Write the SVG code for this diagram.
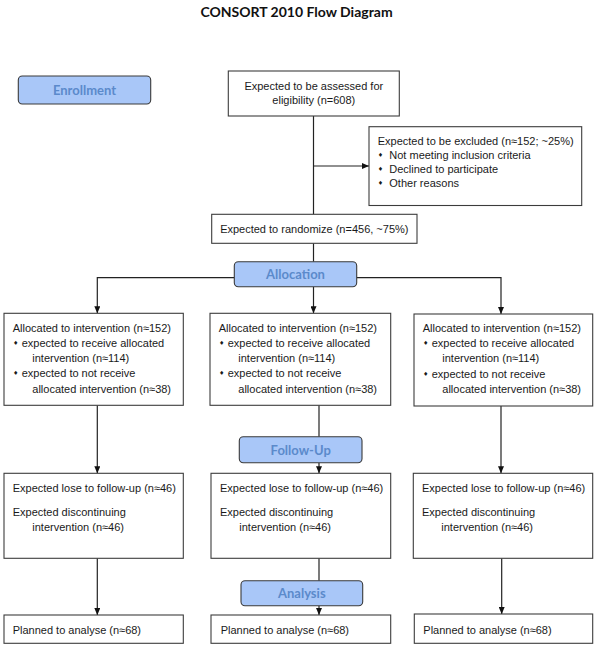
<svg xmlns="http://www.w3.org/2000/svg" width="600" height="648" viewBox="0 0 600 648">
<defs>
<marker id="arr" markerWidth="7" markerHeight="6" refX="7" refY="3" orient="auto" markerUnits="userSpaceOnUse">
<path d="M0,0 L7,3 L0,6 z" fill="#111"/>
</marker>
<style>
.box{fill:#fff;stroke:#3c3c3c;stroke-width:1.1}
.stage{fill:#a9c7f8;stroke:#3a3a3a;stroke-width:1.1}
.t{font-family:"Liberation Sans",Arial,sans-serif;font-size:11px;fill:#1a1a1a}
.tc{font-family:"Liberation Sans",Arial,sans-serif;font-size:11px;fill:#1a1a1a;text-anchor:middle}
.b{font-family:"DejaVu Sans",sans-serif;font-size:6px;fill:#1a1a1a;text-anchor:middle}
.st{font-family:Lato,"Open Sans",sans-serif;font-weight:bold;font-size:13px;fill:#5b8acb;text-anchor:middle}
.title{font-family:Lato,"Open Sans",sans-serif;font-weight:bold;font-size:14px;fill:#111;text-anchor:middle}
.c{fill:none;stroke:#222;stroke-width:1.2}
.ca{fill:none;stroke:#222;stroke-width:1.2;marker-end:url(#arr)}
</style>
</defs>
<rect width="600" height="648" fill="#fff"/>
<text class="title" x="296.5" y="17.3">CONSORT 2010 Flow Diagram</text>

<g id="connectors">
<line class="c" x1="313.5" y1="116" x2="313.5" y2="214.3"/>
<line class="ca" x1="313.5" y1="166" x2="369" y2="166"/>
<line class="c" x1="313.5" y1="243.3" x2="313.5" y2="261.7"/>
<line class="ca" x1="313.5" y1="286.7" x2="313.5" y2="313.3"/>
<polyline class="ca" points="234.3,277.7 97.3,277.7 97.3,313.3"/>
<polyline class="ca" points="356.7,277.7 501,277.7 501,314"/>
<line class="ca" x1="97.3" y1="405.3" x2="97.3" y2="473.3"/>
<line class="c" x1="319" y1="405.3" x2="319" y2="436.7"/>
<line class="ca" x1="319" y1="462.7" x2="319" y2="473.3"/>
<line class="ca" x1="501" y1="406" x2="501" y2="473.3"/>
<line class="ca" x1="97.3" y1="558.3" x2="97.3" y2="615"/>
<line class="c" x1="319" y1="558.3" x2="319" y2="580.7"/>
<line class="ca" x1="319" y1="605.7" x2="319" y2="615"/>
<line class="ca" x1="501.7" y1="558.3" x2="501.7" y2="614"/>
</g>

<g id="enrollment">
<rect class="stage" x="18.3" y="76" width="132.4" height="28" rx="4"/>
<text class="st" x="84.5" y="95">Enrollment</text>
</g>

<g id="assessed">
<rect class="box" x="228.3" y="71" width="171" height="45"/>
<text class="tc" x="313.8" y="89.5">Expected to be assessed for</text>
<text class="tc" x="313.8" y="104.3">eligibility (n=608)</text>
</g>

<g id="excluded">
<rect class="box" x="369" y="126.7" width="212.7" height="78.8"/>
<text class="t" x="377.7" y="145">Expected to be excluded (n≈152; ~25%)</text>
<text class="b" x="380.5" y="157.3">♦</text>
<text class="t" x="389.3" y="159.3">Not meeting inclusion criteria</text>
<text class="b" x="380.5" y="171.3">♦</text>
<text class="t" x="389.3" y="173.3">Declined to participate</text>
<text class="b" x="380.5" y="185.3">♦</text>
<text class="t" x="389.3" y="187.3">Other reasons</text>
</g>

<g id="randomize">
<rect class="box" x="211.7" y="214.3" width="205.3" height="29"/>
<text class="tc" x="314.3" y="232.7">Expected to randomize (n=456, ~75%)</text>
</g>

<g id="allocation">
<rect class="stage" x="234.3" y="261.7" width="122.4" height="25" rx="4"/>
<text class="st" x="295.5" y="279">Allocation</text>
</g>

<g id="alloc-left">
<rect class="box" x="4" y="313.3" width="179.3" height="92"/>
<text class="t" x="12.7" y="331.5">Allocated to intervention (n≈152)</text>
<text class="b" x="15.7" y="344.5">♦</text>
<text class="t" x="21.7" y="346.7">expected to receive allocated</text>
<text class="t" x="32.3" y="361.7">intervention (n≈114)</text>
<text class="b" x="15.7" y="375.3">♦</text>
<text class="t" x="21.7" y="377.3">expected to not receive</text>
<text class="t" x="32.3" y="392.7">allocated intervention (n≈38)</text>
</g>

<g id="alloc-mid">
<rect class="box" x="210" y="313.3" width="180.7" height="92"/>
<text class="t" x="218.7" y="331.5">Allocated to intervention (n≈152)</text>
<text class="b" x="221.7" y="344.5">♦</text>
<text class="t" x="227.7" y="346.7">expected to receive allocated</text>
<text class="t" x="238.3" y="361.7">intervention (n≈114)</text>
<text class="b" x="221.7" y="375.3">♦</text>
<text class="t" x="227.7" y="377.3">expected to not receive</text>
<text class="t" x="238.3" y="392.7">allocated intervention (n≈38)</text>
</g>

<g id="alloc-right">
<rect class="box" x="414" y="314" width="178.7" height="92"/>
<text class="t" x="422.7" y="332">Allocated to intervention (n≈152)</text>
<text class="b" x="425.7" y="345">♦</text>
<text class="t" x="431.7" y="347.2">expected to receive allocated</text>
<text class="t" x="442.3" y="362.2">intervention (n≈114)</text>
<text class="b" x="425.7" y="375.8">♦</text>
<text class="t" x="431.7" y="377.8">expected to not receive</text>
<text class="t" x="442.3" y="393.2">allocated intervention (n≈38)</text>
</g>

<g id="followup">
<rect class="stage" x="239.3" y="436.7" width="122.7" height="26" rx="4"/>
<text class="st" x="300.7" y="455">Follow-Up</text>
</g>

<g id="fu-left">
<rect class="box" x="4" y="473.3" width="179.3" height="85"/>
<text class="t" x="12.7" y="492.3">Expected lose to follow-up (n≈46)</text>
<text class="t" x="12.7" y="516">Expected discontinuing</text>
<text class="t" x="32.3" y="530.7">intervention (n≈46)</text>
</g>

<g id="fu-mid">
<rect class="box" x="211" y="473.3" width="179.7" height="85"/>
<text class="t" x="220" y="492.3">Expected lose to follow-up (n≈46)</text>
<text class="t" x="220" y="516">Expected discontinuing</text>
<text class="t" x="239.3" y="530.7">intervention (n≈46)</text>
</g>

<g id="fu-right">
<rect class="box" x="413.3" y="473.3" width="179.4" height="85"/>
<text class="t" x="422" y="492.3">Expected lose to follow-up (n≈46)</text>
<text class="t" x="422" y="516">Expected discontinuing</text>
<text class="t" x="441.3" y="530.7">intervention (n≈46)</text>
</g>

<g id="analysis">
<rect class="stage" x="241" y="580.7" width="121.7" height="25" rx="4"/>
<text class="st" x="301.8" y="598.3">Analysis</text>
</g>

<g id="plan-left">
<rect class="box" x="4" y="615" width="179.3" height="28.3"/>
<text class="t" x="12.7" y="634">Planned to analyse (n≈68)</text>
</g>

<g id="plan-mid">
<rect class="box" x="211" y="615" width="179.7" height="28.3"/>
<text class="t" x="220.7" y="634">Planned to analyse (n≈68)</text>
</g>

<g id="plan-right">
<rect class="box" x="414.3" y="614" width="178.4" height="29.3"/>
<text class="t" x="423.3" y="634">Planned to analyse (n≈68)</text>
</g>
</svg>
